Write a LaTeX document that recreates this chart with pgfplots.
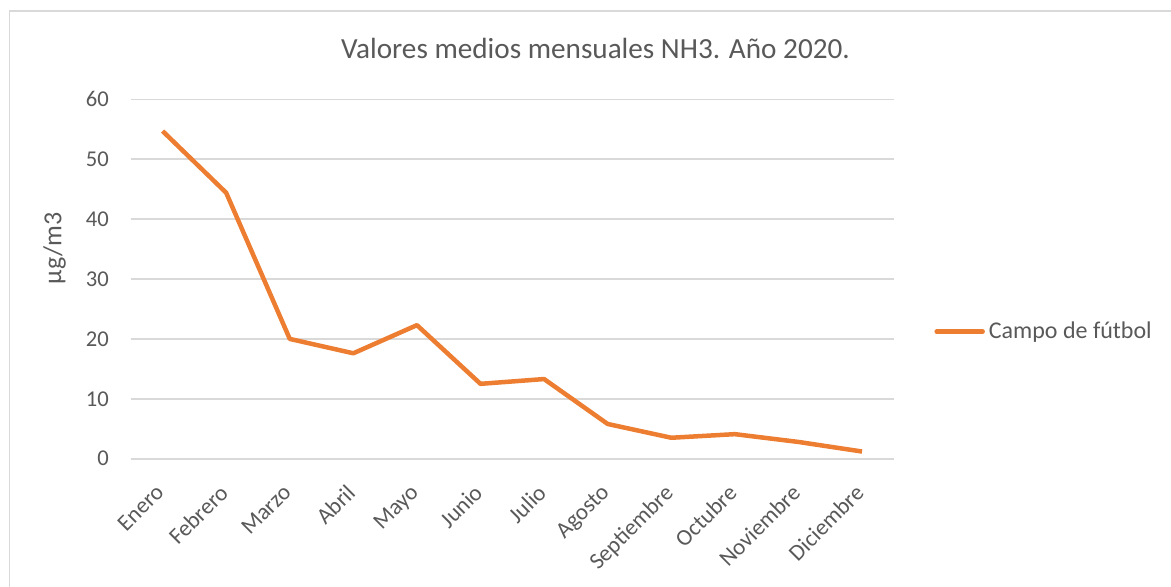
\documentclass[border=0pt]{standalone}
\usepackage{fontspec}
\setmainfont{Carlito}
\usepackage{pgfplots}
\pgfplotsset{compat=1.18}
\definecolor{ln}{HTML}{ED7D31}
\definecolor{gridc}{HTML}{D9D9D9}
\definecolor{txt}{HTML}{595959}
\pgfplotstableread{
x y
0 54.7
1 44.4
2 20.0
3 17.6
4 22.3
5 12.5
6 13.3
7 5.8
8 3.5
9 4.1
10 2.8
11 1.2
}\datatable
\begin{document}
\begin{tikzpicture}
\path[use as bounding box] (0pt,0pt) rectangle (585.5pt,-293pt);
\draw[gridc, line width=0.8pt] (4.8pt,-300pt) -- (4.8pt,-5.35pt) -- (590pt,-5.35pt);
\node[txt, anchor=base, font=\fontsize{14.6}{17}\selectfont] at (297.75pt,-29pt) {Valores medios mensuales NH3. Año 2020.};
\node[txt, rotate=90, font=\fontsize{13}{15}\selectfont] at (27.3pt,-124.2pt) {µg/m3};
\begin{axis}[
  at={(65.4pt,-229.35pt)}, anchor=south west,
  scale only axis, width=381.5pt, height=179.7pt,
  xmin=-0.5, xmax=11.5, ymin=0, ymax=60,
  axis line style={draw=none},
  tick style={draw=none},
  ytick={0,10,...,60},
  ymajorgrids, grid style={gridc, line width=0.8pt},
  xtick={0,...,11},
  xticklabels={Enero,Febrero,Marzo,Abril,Mayo,Junio,Julio,Agosto,Septiembre,Octubre,Noviembre,Diciembre},
  /pgf/number format/assume math mode=true,
  yticklabel style={txt, font=\fontsize{11.3}{13}\selectfont, xshift=-7.5pt},
  xticklabel style={txt, font=\fontsize{11.5}{13}\selectfont, inner sep=0pt, xshift=-4pt, yshift=-12pt, rotate=45, anchor=north east},
  legend style={at={(1.0527,0.3534)}, anchor=west, draw=none, fill=none, inner sep=0pt, font=\fontsize{12}{14}\selectfont, text=txt},
  legend image code/.code={\draw[#1, line cap=round] (0pt,0pt) -- (23pt,0pt);},
  clip=false,
]
\addplot[ln, line width=2.25pt, line join=round] table[x=x,y=y] {\datatable};
\addlegendentry{Campo de fútbol}
\end{axis}
\end{tikzpicture}
\end{document}
